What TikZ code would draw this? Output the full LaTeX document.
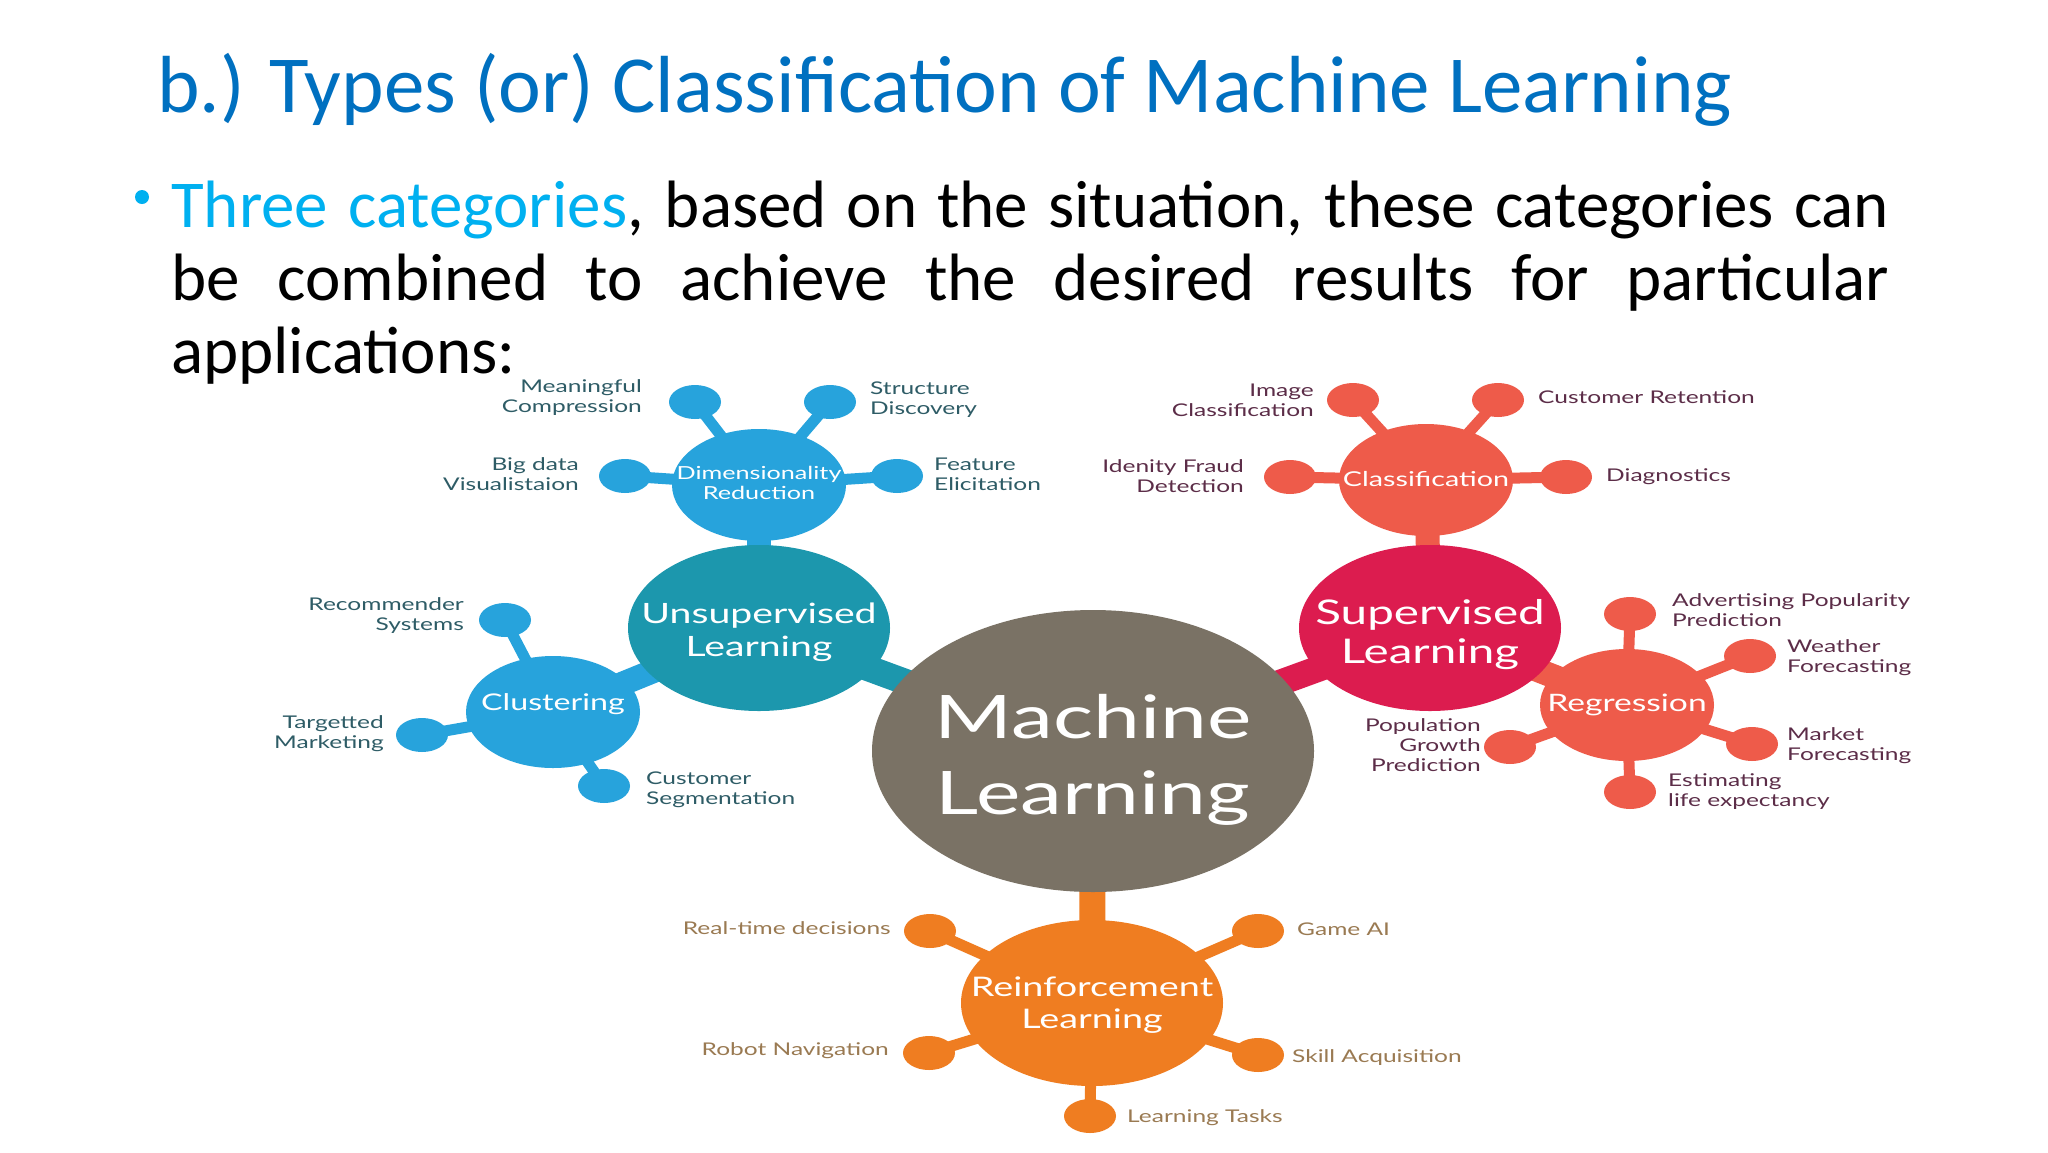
\documentclass[tikz,border=0pt]{standalone}
\usepackage{fontspec}
\setmainfont{Carlito}
\newfontfamily\dfont{Lato}
\usetikzlibrary{shapes.geometric,backgrounds}
\definecolor{mlgrey}{HTML}{7A7265}
\definecolor{tealc}{HTML}{1C97AD}
\definecolor{lblue}{HTML}{27A3DC}
\definecolor{crimson}{HTML}{DC1C4F}
\definecolor{coral}{HTML}{EE5B4A}
\definecolor{orangec}{HTML}{EF7D21}
\definecolor{bluetxt}{HTML}{2E5C66}
\definecolor{redtxt}{HTML}{5C2D48}
\definecolor{ortxt}{HTML}{9A7A52}
\definecolor{titleblue}{HTML}{0070C0}
\definecolor{cyanc}{HTML}{00B0F0}
\newcommand\sx[2][c]{\scalebox{1.4}[1]{\begin{tabular}{@{}#1@{}}#2\end{tabular}}}
\tikzset{
  mlell/.style={ellipse, minimum width=442, minimum height=282, inner sep=0, fill=mlgrey},
  bigell/.style={ellipse, minimum width=262, minimum height=166, inner sep=0},
  midell/.style={ellipse, minimum width=174, minimum height=112, inner sep=0},
  dotell/.style={ellipse, minimum width=52, minimum height=34, inner sep=0},
  intxt/.style={inner sep=0, text=white},
  leaf/.style={inner sep=0, font=\dfont\fontsize{17.5}{20}\selectfont},
  bar/.style={line width=26, line cap=butt},
  midbar/.style={line width=24, line cap=butt},
  spoke/.style={line width=11, line cap=butt},
}
\begin{document}
\begin{tikzpicture}[x=1pt,y=-1pt]
\useasboundingbox (0,0) rectangle (2048,1152);

% slide text
\node[anchor=base west, inner sep=0, text=titleblue, font=\fontsize{81}{97}\selectfont] (title) at (157,112) {b.) Types (or) Classification of Machine Learning};
\node[circle, fill=cyanc, minimum size=14, inner sep=0] (bul) at (142,197) {};
\node[anchor=base west, inner sep=0, font=\fontsize{67}{73}\selectfont] (line1) at (171,227) {\makebox[1718pt][s]{\textcolor{cyanc}{Three categories}, based on the situation, these categories can}};
\node[anchor=base west, inner sep=0, font=\fontsize{67}{73}\selectfont] (line2) at (171,300) {\makebox[1718pt][s]{be combined to achieve the desired results for particular}};
\node[anchor=base west, inner sep=0, font=\fontsize{67}{73}\selectfont] (line3) at (171,373) {applications:};

% main ellipses
\node[mlell] (ml) at (1093,751) {};
\node[bigell, fill=tealc] (ul) at (759,628) {};
\node[bigell, fill=crimson] (sl) at (1430,628) {};
\node[bigell, fill=orangec] (rl) at (1092,1003) {};
\node[midell, fill=lblue] (dr) at (759,485) {};
\node[midell, fill=lblue] (cl) at (553,712) {};
\node[midell, fill=coral] (ca) at (1426,480) {};
\node[midell, fill=coral] (re) at (1627,705) {};

% dots
\begin{scope}[every node/.style={dotell, fill=lblue}]
\node (d1) at (695,402) {};
\node (d2) at (830,402) {};
\node (d3) at (625,476) {};
\node (d4) at (897,476) {};
\node (c1) at (505,620) {};
\node (c2) at (422,735) {};
\node (c3) at (604,786) {};
\end{scope}
\begin{scope}[every node/.style={dotell, fill=coral}]
\node (a1) at (1353,400) {};
\node (a2) at (1498,400) {};
\node (a3) at (1290,477) {};
\node (a4) at (1566,477) {};
\node (r1) at (1630,614) {};
\node (r2) at (1750,656) {};
\node (r3) at (1752,744) {};
\node (r4) at (1630,792) {};
\node (r5) at (1510,747) {};
\end{scope}
\begin{scope}[every node/.style={dotell, fill=orangec}]
\node (o1) at (930,931) {};
\node (o2) at (1258,931) {};
\node (o3) at (929,1053) {};
\node (o4) at (1258,1055) {};
\node (o5) at (1090,1116) {};
\end{scope}

% connectors
\begin{scope}[on background layer]
\fill[white] (0,0) rectangle (2048,1152);
\draw[bar, tealc] (ul.center) -- (ml.center);
\draw[bar, crimson] (sl.center) -- (ml.center);
\draw[bar, orangec] (rl.center) -- (ml.center);
\draw[midbar, lblue] (dr.center) -- (ul.center);
\draw[midbar, lblue] (cl.center) -- (ul.center);
\draw[midbar, coral] (ca.center) -- (sl.center);
\draw[midbar, coral] (re.center) -- (sl.center);
\foreach \d in {d1,d2,d3,d4} \draw[spoke, lblue] (\d.center) -- (dr.center);
\foreach \d in {c1,c2,c3} \draw[spoke, lblue] (\d.center) -- (cl.center);
\foreach \d in {a1,a2,a3,a4} \draw[spoke, coral] (\d.center) -- (ca.center);
\foreach \d in {r1,r2,r3,r4,r5} \draw[spoke, coral] (\d.center) -- (re.center);
\foreach \d in {o1,o2,o3,o4,o5} \draw[spoke, orangec] (\d.center) -- (rl.center);
\end{scope}

% texts inside ellipses
\node[intxt, font=\dfont\fontsize{60}{76}\selectfont] (mlt) at ([yshift=-10]ml.center) {\sx{Machine\\Learning}};
\node[intxt, font=\dfont\fontsize{28}{33}\selectfont] (ult) at ([yshift=-5]ul.center) {\sx{Unsupervised\\Learning}};
\node[intxt, font=\dfont\fontsize{34}{39}\selectfont] (slt) at ([yshift=-8]sl.center) {\sx{Supervised\\Learning}};
\node[intxt, font=\dfont\fontsize{27}{32}\selectfont] (rlt) at ([yshift=-3]rl.center) {\sx{Reinforcement\\Learning}};
\node[intxt, font=\dfont\fontsize{18}{20}\selectfont] (drt) at (dr.center) {\sx{Dimensionality\\Reduction}};
\node[intxt, font=\dfont\fontsize{23}{27}\selectfont] (clt) at ([yshift=7]cl.center) {\sx{Clustering}};
\node[intxt, font=\dfont\fontsize{20.5}{24}\selectfont] (cat) at ([yshift=-2]ca.center) {\sx{Classification}};
\node[intxt, font=\dfont\fontsize{24}{28}\selectfont] (ret) at ([yshift=-1]re.center) {\sx{Regression}};

% leaf labels
\begin{scope}[every node/.style={leaf, text=bluetxt}]
\node[anchor=east] (t1) at (642,398) {\sx[r]{Meaningful\\Compression}};
\node[anchor=west] (t2) at (870,400) {\sx[l]{Structure\\Discovery}};
\node[anchor=east] (t3) at (579,476) {\sx[r]{Big data\\Visualistaion}};
\node[anchor=west] (t4) at (934,476) {\sx[l]{Feature\\Elicitation}};
\node[anchor=east] (t5) at (464,616) {\sx[r]{Recommender\\Systems}};
\node[anchor=east] (t6) at (384,734) {\sx[r]{Targetted\\Marketing}};
\node[anchor=west] (t7) at (646,790) {\sx[l]{Customer\\Segmentation}};
\end{scope}
\begin{scope}[every node/.style={leaf, text=redtxt}]
\node[anchor=east] (u1) at (1314,402) {\sx[r]{Image\\Classification}};
\node[anchor=west] (u2) at (1538,399) {\sx[l]{Customer Retention}};
\node[anchor=east] (u3) at (1244,478) {\sx[r]{Idenity Fraud\\Detection}};
\node[anchor=west] (u4) at (1606,477) {\sx[l]{Diagnostics}};
\node[anchor=west] (u5) at (1672,612) {\sx[l]{Advertising Popularity\\Prediction}};
\node[anchor=west] (u6) at (1787,658) {\sx[l]{Weather\\Forecasting}};
\node[anchor=west] (u7) at (1787,746) {\sx[l]{Market\\Forecasting}};
\node[anchor=west] (u8) at (1668,792) {\sx[l]{Estimating\\life expectancy}};
\node[anchor=east] (u9) at (1481,747) {\sx[r]{Population\\Growth\\Prediction}};
\end{scope}
\begin{scope}[every node/.style={leaf, text=ortxt}]
\node[anchor=east] (v1) at (891,930) {\sx[r]{Real-time decisions}};
\node[anchor=west] (v2) at (1297,931) {\sx[l]{Game AI}};
\node[anchor=east] (v3) at (889,1051) {\sx[r]{Robot Navigation}};
\node[anchor=west] (v4) at (1292,1058) {\sx[l]{Skill Acquisition}};
\node[anchor=west] (v5) at (1127,1118) {\sx[l]{Learning Tasks}};
\end{scope}
\end{tikzpicture}
\end{document}
